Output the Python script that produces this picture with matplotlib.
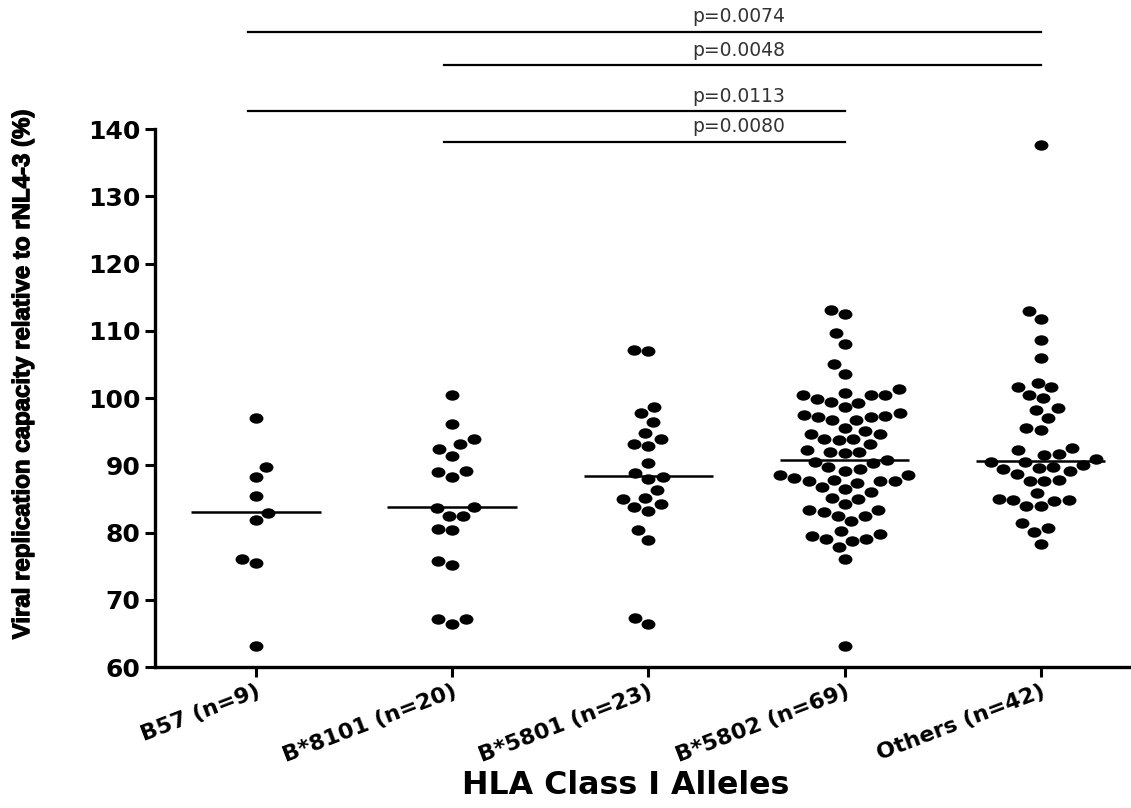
import numpy as np
import pandas as pd
import matplotlib
matplotlib.use("Agg")
import matplotlib.pyplot as plt
import matplotlib.patheffects as pe
from matplotlib.path import Path
from matplotlib.transforms import Affine2D
import seaborn as sns

# values (% of rNL4-3)
groups = ["B57 (n=9)", "B*8101 (n=20)", "B*5801 (n=23)", "B*5802 (n=69)", "Others (n=42)"]

b57 = [97.0, 89.7, 88.2, 85.5, 82.9, 81.8, 76.0, 75.4, 63.1]
b8101 = [100.5, 96.1, 93.9, 93.1, 92.4, 91.4, 89.1, 89.0, 88.3, 83.8,
         83.6, 82.4, 82.4, 80.4, 80.5, 75.7, 75.2, 67.2, 67.1, 66.4]
b5801 = [107.2, 107.0, 98.6, 97.7, 96.5, 94.8, 93.9, 93.1, 92.8, 90.3,
         88.8, 88.3, 88.0, 86.3, 85.2, 85.0, 84.2, 83.8, 83.2, 80.3,
         78.9, 67.3, 66.4]
b5802 = [113.1, 112.5, 109.7, 108.0, 105.0, 103.6, 101.3, 100.8, 100.5, 100.5,
         100.4, 99.8, 99.4, 99.3, 98.6, 97.7, 97.5, 97.4, 97.2, 97.2,
         96.8, 96.7, 95.6, 95.1, 94.7, 94.6, 93.9, 93.9, 93.7, 93.2,
         92.2, 92.0, 91.9, 91.8, 90.8, 90.5, 90.4, 89.7, 89.5, 89.1,
         88.6, 88.5, 88.1, 87.8, 87.7, 87.6, 87.6, 87.4, 86.7, 86.4,
         86.0, 85.2, 85.0, 84.2, 83.3, 83.3, 83.0, 82.4, 82.4, 81.7,
         80.2, 79.8, 79.5, 79.1, 79.0, 78.8, 77.9, 76.0, 63.1]
others = [137.6, 113.0, 111.7, 108.6, 106.0, 102.3, 101.7, 101.7, 100.4, 100.0,
          98.5, 98.2, 97.0, 95.6, 95.2, 92.6, 92.3, 91.7, 91.5, 90.9,
          90.5, 90.5, 90.0, 89.8, 89.6, 89.4, 89.1, 88.7, 87.8, 87.7,
          87.7, 85.9, 85.0, 84.9, 84.8, 84.75, 83.9, 83.9, 81.4, 80.6,
          80.1, 78.3]

medians = [83.0, 83.8, 88.4, 90.8, 90.7]

# pairwise comparisons (group index a, group index b, p text)
pairs = [(0, 4, "p=0.0074"), (1, 4, "p=0.0048"), (0, 3, "p=0.0113"), (1, 3, "p=0.0080")]
bar_y = [154.4, 149.5, 142.7, 138.1]
text_y = [156.7, 151.7, 144.9, 140.4]

all_vals = [b57, b8101, b5801, b5802, others]
df = pd.DataFrame({
    "group": np.repeat(groups, [len(v) for v in all_vals]),
    "value": np.concatenate(all_vals),
})

# dots in the original are slightly flattened
dot = Path.unit_circle().transformed(Affine2D().scale(1.0, 0.75))

fig = plt.figure(figsize=(11.31, 8.08), dpi=100)
ax = fig.add_axes([0.137, 0.1745, 0.863, 0.6658])

sns.swarmplot(data=df, x="group", y="value", order=groups, color="black",
              size=10, marker=dot, ax=ax)

# median lines
for i, m in enumerate(medians):
    ax.hlines(m, i - 0.33, i + 0.33, color="black", lw=1.8, zorder=3)

# p-value bars
for (a, b, txt), yb, yt in zip(pairs, bar_y, text_y):
    ax.plot([a - 0.04, b], [yb, yb], color="black", lw=1.6, clip_on=False)
    ax.text(2.46, yt, txt, ha="center", va="center", fontsize=13.5,
            color="#333333", family="DejaVu Sans")

ax.set_xlim(-0.515, 4.46)
ax.set_ylim(60, 140)
ax.set_yticks(np.arange(60, 141, 10))

for s in ["top", "right"]:
    ax.spines[s].set_visible(False)
for s in ["left", "bottom"]:
    ax.spines[s].set_linewidth(2.4)
ax.tick_params(width=2.2, length=7, direction="out")

ax.set_yticklabels([str(v) for v in range(60, 141, 10)], fontsize=18,
                   fontweight="bold", family="DejaVu Sans")
ax.set_xticks(range(len(groups)))
ax.set_xticklabels(groups, rotation=21, ha="right", rotation_mode="anchor",
                   fontsize=16, fontweight="bold", family="DejaVu Sans")

ax.set_xlabel("")
ax.set_ylabel("")
fig.text(0.02, 0.536, "Viral replication capacity relative to rNL4-3 (%)",
         rotation=90, ha="center", va="center", fontsize=17.3, fontweight="bold",
         family="Liberation Sans",
         path_effects=[pe.withStroke(linewidth=0.9, foreground="black")])
fig.text(0.553, 0.028, "HLA Class I Alleles", ha="center", va="center",
         fontsize=22.8, fontweight="bold", family="DejaVu Sans")

fig.savefig("out.png", dpi=100)
